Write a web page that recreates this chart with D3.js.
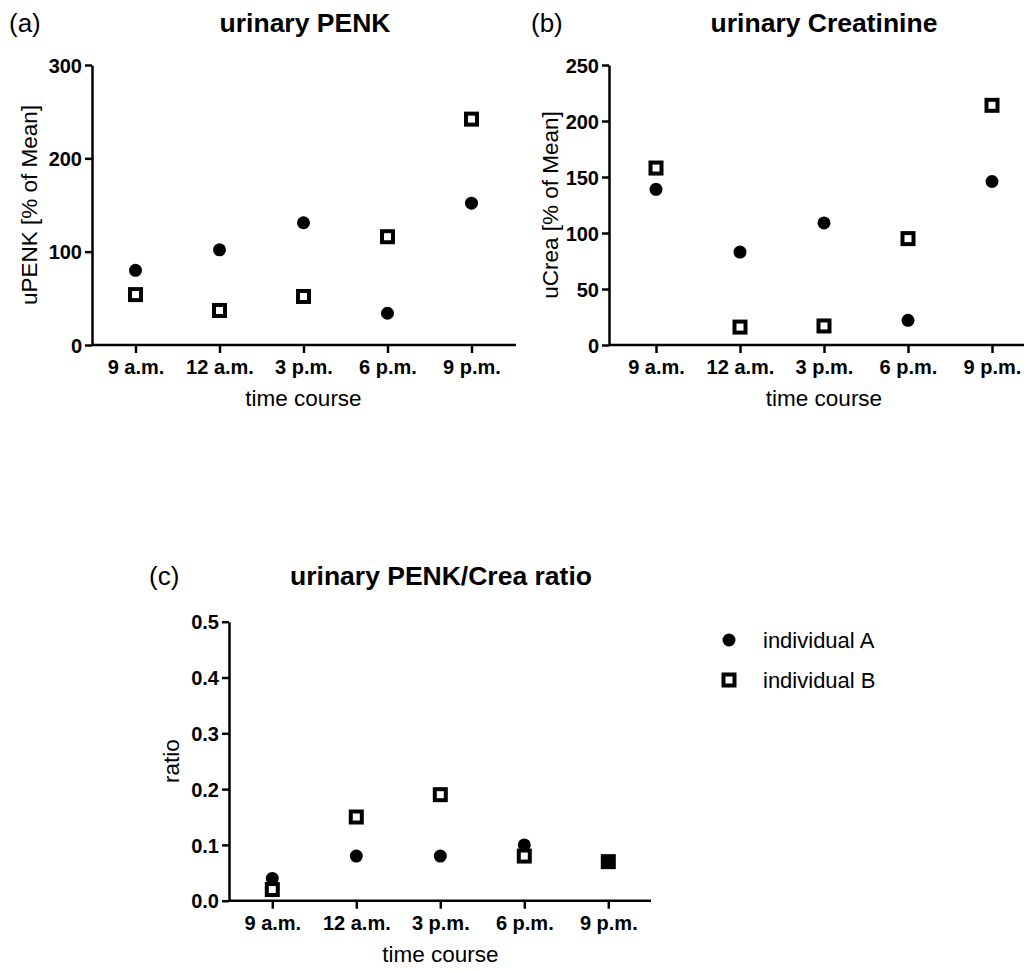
<!DOCTYPE html>
<html>
<head>
<meta charset="utf-8">
<script src="https://cdn.jsdelivr.net/npm/d3@7"></script>
<style>
  body { margin: 0; background: #fff; }
  svg { font-family: "Liberation Sans", Arial, sans-serif; }
  .tick text { font-weight: bold; font-size: 20px; fill: #000; }
  .tick line { stroke: #000; stroke-width: 2.5; }
  .domain { stroke: #000; stroke-width: 2.5; }
</style>
</head>
<body>
<svg id="svg1" width="1024" height="969"></svg>
<script>
// time points
var categories = ["9 a.m.", "12 a.m.", "3 p.m.", "6 p.m.", "9 p.m."];

// (a) urinary PENK, % of mean
var penkA = [80, 102, 131, 34, 152];
var penkB = [54, 37, 52, 116, 242];
var penkTicks = [0, 100, 200, 300];

// (b) urinary creatinine, % of mean
var creaA = [139, 83, 109, 22, 146];
var creaB = [158, 16, 17, 95, 214];
var creaTicks = [0, 50, 100, 150, 200, 250];

// (c) PENK/Crea ratio
var ratioA = [0.04, 0.08, 0.08, 0.10, 0.07];
var ratioB = [0.02, 0.15, 0.19, 0.08, 0.07];
var ratioTicks = [0, 0.1, 0.2, 0.3, 0.4, 0.5];

var legendNames = ["individual A", "individual B"];

var svg = d3.select("#svg1");

function drawPanel(p){
    var g = svg.append("g");
    var x = d3.scalePoint().domain(categories).range([p.x1, p.x2]);
    var y = d3.scaleLinear().domain([0, p.max]).range([p.y0, p.yTop]);

    // x axis (line runs past the last tick, as in prism)
    var gx = g.append("g")
        .attr("transform", `translate(0,${p.y0})`)
        .call(d3.axisBottom(x).tickSize(8).tickPadding(7));
    gx.select(".domain").remove();
    gx.append("line")
        .attr("x1", p.axisX).attr("x2", p.axisEnd)
        .attr("y1", 0).attr("y2", 0)
        .attr("stroke", "#000").attr("stroke-width", 2.5);

    var gy = g.append("g")
        .attr("transform", `translate(${p.axisX},0)`)
        .call(d3.axisLeft(y).tickValues(p.ticks).tickFormat(p.fmt).tickSize(7).tickSizeOuter(0).tickPadding(3));
    gy.selectAll(".tick text").attr("dy", "0.36em");

    // squares first so the dot can sit on top of them
    g.selectAll(".sq").data(p.b).enter().append("rect")
        .attr("class", "sq")
        .attr("x", (d, i) => x(categories[i]) - 5.5)
        .attr("y", d => y(d) - 5.5)
        .attr("width", 11).attr("height", 11)
        .attr("fill", "#fff").attr("stroke", "#000").attr("stroke-width", 4);

    g.selectAll(".dot").data(p.a).enter().append("circle")
        .attr("class", "dot")
        .attr("cx", (d, i) => x(categories[i]))
        .attr("cy", d => y(d))
        .attr("r", 6.5)
        .attr("fill", "#000");

    // titles and labels
    g.append("text")
        .attr("x", p.titleX).attr("y", p.titleY)
        .attr("text-anchor", "middle")
        .attr("font-size", 26.5).attr("font-weight", "bold")
        .text(p.title);
    g.append("text")
        .attr("x", p.tagX).attr("y", p.titleY)
        .attr("font-size", 26)
        .text(p.tag);
    g.append("text")
        .attr("x", (p.x1 + p.x2) / 2).attr("y", p.y0 + 61)
        .attr("text-anchor", "middle")
        .attr("font-size", 22.5)
        .text("time course");
    g.append("text")
        .attr("transform", `translate(${p.ylabX},${(p.y0 + p.yTop) / 2}) rotate(-90)`)
        .attr("text-anchor", "middle")
        .attr("font-size", 22.5)
        .text(p.ylab);
}

drawPanel({
    tag: "(a)", tagX: 9, title: "urinary PENK", titleX: 305, titleY: 32,
    ylab: "uPENK [% of Mean]", ylabX: 37,
    axisX: 92, axisEnd: 516, x1: 135.5, x2: 471.5,
    y0: 345, yTop: 65, max: 300, ticks: penkTicks, fmt: d3.format("d"),
    a: penkA, b: penkB
});

drawPanel({
    tag: "(b)", tagX: 531, title: "urinary Creatinine", titleX: 824, titleY: 32,
    ylab: "uCrea [% of Mean]", ylabX: 558,
    axisX: 609, axisEnd: 1030, x1: 656, x2: 992,
    y0: 345, yTop: 65, max: 250, ticks: creaTicks, fmt: d3.format("d"),
    a: creaA, b: creaB
});

drawPanel({
    tag: "(c)", tagX: 149, title: "urinary PENK/Crea ratio", titleX: 441, titleY: 585,
    ylab: "ratio", ylabX: 179,
    axisX: 229, axisEnd: 651, x1: 272.3, x2: 608.3,
    y0: 900.7, yTop: 621.7, max: 0.5, ticks: ratioTicks, fmt: d3.format(".1f"),
    a: ratioA, b: ratioB
});

// legend
var lg = svg.append("g").attr("transform", "translate(729,640)");
lg.append("circle").attr("cx", 0).attr("cy", 0).attr("r", 6.5).attr("fill", "#000");
lg.append("rect").attr("x", -5.5).attr("y", 40 - 5.5).attr("width", 11).attr("height", 11)
    .attr("fill", "#fff").attr("stroke", "#000").attr("stroke-width", 4);
lg.selectAll(".lt").data(legendNames).enter().append("text")
    .attr("class", "lt")
    .attr("x", 34).attr("y", (d, i) => i * 40 + 8)
    .attr("font-size", 22)
    .text(d => d);
</script>
</body>
</html>
